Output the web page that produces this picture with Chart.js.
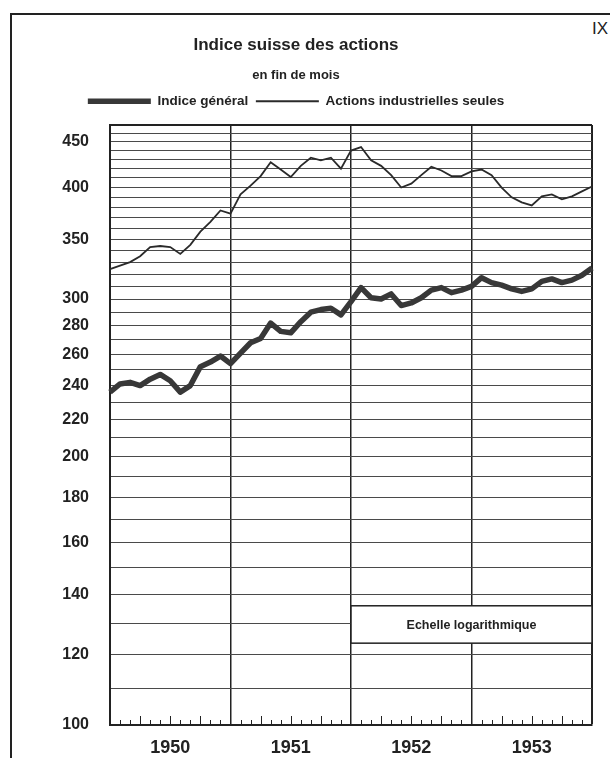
<!DOCTYPE html>
<html>
<head>
<meta charset="utf-8">
<title>Indice suisse des actions</title>
<script src="https://cdn.jsdelivr.net/npm/chart.js@4.4.0/dist/chart.umd.min.js"></script>
<style>
  html, body { margin: 0; padding: 0; background: #fff; }
  #wrap { position: relative; width: 610px; height: 758px; overflow: hidden; }
  #frame { position: absolute; left: 10px; top: 13px; width: 640px; height: 800px;
           border-left: 2px solid #222; border-top: 2px solid #222; }
  #num { position: absolute; left: 592px; top: 19px; font: 17px "Liberation Sans", Arial, sans-serif; color: #222; }
  canvas { position: absolute; left: 0; top: 0; }
</style>
</head>
<body>
<div id="wrap">
  <div id="frame"></div>
  <div id="num">IX</div>
  <canvas id="mycanvas" width="610" height="758"></canvas>
</div>
<script>
// fin de mois, de décembre 1949 à décembre 1953
var monthNames = ['janv.', 'févr.', 'mars', 'avr.', 'mai', 'juin', 'juil.', 'août', 'sept.', 'oct.', 'nov.', 'déc.'];
var years = ['1950', '1951', '1952', '1953'];
var monthLabels = ['déc. 1949'];
for (var y = 0; y < years.length; y++) {
	for (var m = 0; m < 12; m++) {
		monthLabels.push(monthNames[m] + ' ' + years[y]);
	}
}

var indiceGeneral = [236, 241, 242, 240, 244, 247, 243, 236, 240, 252, 255, 259,
	254, 261, 268, 271, 282, 276, 275, 283, 290, 292, 293, 288,
	298, 309, 301, 300, 304, 295, 297, 301, 307, 309, 305, 307,
	310, 317, 313, 311, 308, 306, 308, 314, 316, 313, 315, 319, 325];

var actionsIndustrielles = [324, 327, 330, 335, 343, 344, 343, 337, 345, 357, 366, 377,
	374, 393, 402, 412, 427, 419, 411, 423, 432, 429, 432, 420,
	440, 444, 429, 423, 413, 400, 404, 413, 422, 418, 412, 412,
	417, 419, 413, 400, 390, 385, 382, 391, 393, 388, 391, 396, 401];

var yTickLabels = [100, 120, 140, 160, 180, 200, 220, 240, 260, 280, 300, 350, 400, 450];
var yMin = 100, yMax = 470, yStep = 10;

var ink = '#222';
var font = '"Liberation Sans", Arial, sans-serif';

// traits des mois et encadré "Echelle logarithmique"
var extras = {
	id: 'extras',
	beforeDatasetsDraw: function(chart) {
		var ctx = chart.ctx, xs = chart.scales.x, ys = chart.scales.y, a = chart.chartArea;
		ctx.save();
		ctx.strokeStyle = ink;
		ctx.lineWidth = 1;
		for (var i = 1; i < monthLabels.length - 1; i++) {
			if (i % 12 === 0) continue;
			var px = Math.round(xs.getPixelForValue(i)) + 0.5;
			var len = (i % 3 === 0) ? 9 : 5;
			ctx.beginPath();
			ctx.moveTo(px, a.bottom);
			ctx.lineTo(px, a.bottom - len);
			ctx.stroke();
		}
		var x1 = xs.getPixelForValue(24), x2 = xs.getPixelForValue(48);
		var y1 = ys.getPixelForValue(136), y2 = ys.getPixelForValue(123.5);
		ctx.fillStyle = '#fff';
		ctx.fillRect(x1, y1, x2 - x1, y2 - y1);
		ctx.lineWidth = 1.5;
		ctx.strokeRect(x1, y1, x2 - x1, y2 - y1);
		ctx.fillStyle = ink;
		ctx.font = 'bold 12.5px ' + font;
		ctx.textAlign = 'center';
		ctx.textBaseline = 'middle';
		ctx.fillText('Echelle logarithmique', (x1 + x2) / 2, (y1 + y2) / 2 + 1);
		ctx.restore();
	}
};

var chartdata = {
	labels: monthLabels,
	datasets: [
		{
			label: 'Indice général',
			data: indiceGeneral,
			borderColor: '#383838',
			backgroundColor: '#383838',
			borderWidth: 5.5,
			borderJoinStyle: 'round',
			pointRadius: 0,
			tension: 0
		},
		{
			label: 'Actions industrielles seules',
			data: actionsIndustrielles,
			borderColor: '#2a2a2a',
			backgroundColor: '#2a2a2a',
			borderWidth: 1.8,
			pointRadius: 0,
			tension: 0
		}
	]
};

var ctx = document.getElementById('mycanvas');

var lineGraph = new Chart(ctx, {
	type: 'line',
	data: chartdata,
	plugins: [extras],
	options: {
		responsive: false,
		animation: false,
		events: [],
		layout: { padding: { left: 0, right: 18, top: 0, bottom: 0 } },
		plugins: {
			title: {
				display: true,
				text: 'Indice suisse des actions',
				color: ink,
				font: { family: font, size: 17, weight: 'bold' },
				padding: { top: 35, bottom: 4 }
			},
			subtitle: {
				display: true,
				text: 'en fin de mois',
				color: ink,
				font: { family: font, size: 13, weight: 'bold' },
				padding: { top: 8, bottom: 4 }
			},
			legend: {
				display: true,
				labels: {
					usePointStyle: true,
					pointStyle: 'line',
					pointStyleWidth: 63,
					padding: 7.5,
					color: ink,
					font: { family: font, size: 13.5, weight: 'bold' }
				}
			},
			tooltip: { enabled: false }
		},
		scales: {
			x: {
				type: 'category',
				position: 'bottom',
				grid: {
					drawTicks: false,
					color: function(c) {
						return (c.index % 12 === 0 && c.index > 0) ? ink : 'rgba(0,0,0,0)';
					},
					lineWidth: function(c) {
						return c.index === 48 ? 2 : 1.5;
					}
				},
				border: { display: true, color: ink, width: 2 },
				ticks: {
					autoSkip: false,
					maxRotation: 0,
					padding: 12,
					color: ink,
					font: { family: font, size: 18, weight: 'bold' },
					callback: function(value, index) {
						return index % 12 === 6 ? years[(index - 6) / 12] : '';
					}
				},
				afterFit: function(scale) { scale.height = 33; }
			},
			xTop: {
				type: 'category',
				position: 'top',
				display: true,
				grid: { display: false },
				border: { display: false },
				ticks: { display: false },
				afterFit: function(scale) { scale.height = 7; }
			},
			y: {
				type: 'logarithmic',
				min: yMin,
				max: yMax,
				afterBuildTicks: function(scale) {
					var t = [];
					for (var v = yMin; v <= yMax; v += yStep) t.push({ value: v });
					scale.ticks = t;
				},
				grid: {
					drawTicks: false,
					color: function(c) { return c.tick && c.tick.value === yMax ? ink : '#4a4a4a'; },
					lineWidth: function(c) { return c.tick && c.tick.value === yMax ? 2 : 1; }
				},
				border: { display: true, color: ink, width: 2 },
				ticks: {
					autoSkip: false,
					padding: 21,
					color: ink,
					font: { family: font, size: 16, weight: 'bold' },
					callback: function(value) {
						return yTickLabels.indexOf(value) >= 0 ? String(value) : '';
					}
				},
				afterFit: function(scale) { scale.width = 110; }
			}
		}
	}
});
</script>
</body>
</html>
